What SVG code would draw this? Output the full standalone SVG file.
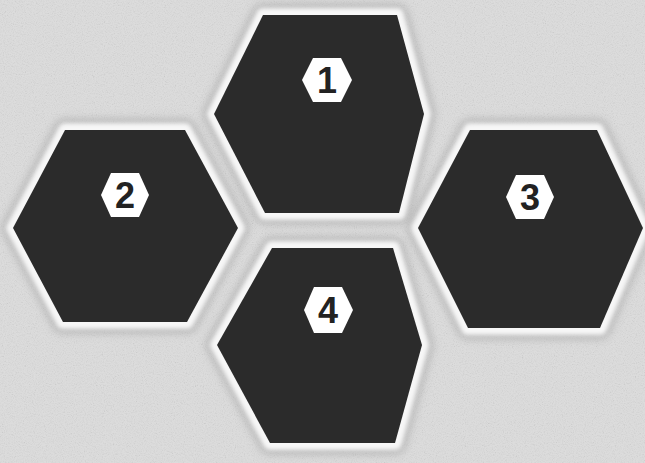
<svg xmlns="http://www.w3.org/2000/svg" width="645" height="463" viewBox="0 0 645 463">
<defs>
<style>
.halo{fill:#f7f7f7;stroke:#f7f7f7;stroke-width:14;stroke-linejoin:round;filter:url(#blur)}
.shadow{fill:#9a9a9a;stroke:#9a9a9a;stroke-width:22;stroke-linejoin:round;filter:url(#blur2);opacity:0.55}
.hex{fill:#2b2b2b}
.badge{fill:#ffffff}
.num{font-family:"Liberation Sans",Arial,sans-serif;font-weight:bold;font-size:36px;fill:#222;text-anchor:middle}
</style>
<filter id="blur" x="-10%" y="-10%" width="120%" height="120%"><feGaussianBlur stdDeviation="2"/></filter>
<filter id="blur2" x="-20%" y="-20%" width="140%" height="140%"><feGaussianBlur stdDeviation="4"/></filter>
<filter id="noise" x="0" y="0" width="100%" height="100%">
<feTurbulence type="fractalNoise" baseFrequency="0.9" numOctaves="2" seed="3"/>
<feColorMatrix type="saturate" values="0"/>
<feComponentTransfer><feFuncA type="table" tableValues="0 0 0.5 1"/></feComponentTransfer>
</filter>
</defs>
<rect width="645" height="463" fill="#dcdcdc"/>
<rect width="645" height="463" filter="url(#noise)" opacity="0.35"/>
<g id="node1">
<polygon class="shadow" points="263,15 397,15 424,114 399,213 265,213 214,114"/>
<polygon class="halo" points="263,15 397,15 424,114 399,213 265,213 214,114"/>
<polygon class="hex" points="263,15 397,15 424,114 399,213 265,213 214,114"/>
<polygon class="badge" points="313,58 341,58 352,80 341,102 313,102 302,80"/>
<text class="num" x="327" y="93">1</text>
</g>
<g id="node2">
<polygon class="shadow" points="65,130 185,130 238,228 187,322 63,322 13,228"/>
<polygon class="halo" points="65,130 185,130 238,228 187,322 63,322 13,228"/>
<polygon class="hex" points="65,130 185,130 238,228 187,322 63,322 13,228"/>
<polygon class="badge" points="111,173 139,173 149,195 139,217 111,217 101,195"/>
<text class="num" x="125" y="208">2</text>
</g>
<g id="node3">
<polygon class="shadow" points="470,130 597,130 643,228 600,328 468,328 418,228"/>
<polygon class="halo" points="470,130 597,130 643,228 600,328 468,328 418,228"/>
<polygon class="hex" points="470,130 597,130 643,228 600,328 468,328 418,228"/>
<polygon class="badge" points="516,175 544,175 554,197 544,219 516,219 506,197"/>
<text class="num" x="530" y="210">3</text>
</g>
<g id="node4">
<polygon class="shadow" points="272,248 393,248 422,345 395,443 270,443 217,345"/>
<polygon class="halo" points="272,248 393,248 422,345 395,443 270,443 217,345"/>
<polygon class="hex" points="272,248 393,248 422,345 395,443 270,443 217,345"/>
<polygon class="badge" points="314,287 342,287 353,310 342,333 314,333 304,310"/>
<text class="num" x="328" y="323">4</text>
</g>
<g id="connectors"/>
</svg>
